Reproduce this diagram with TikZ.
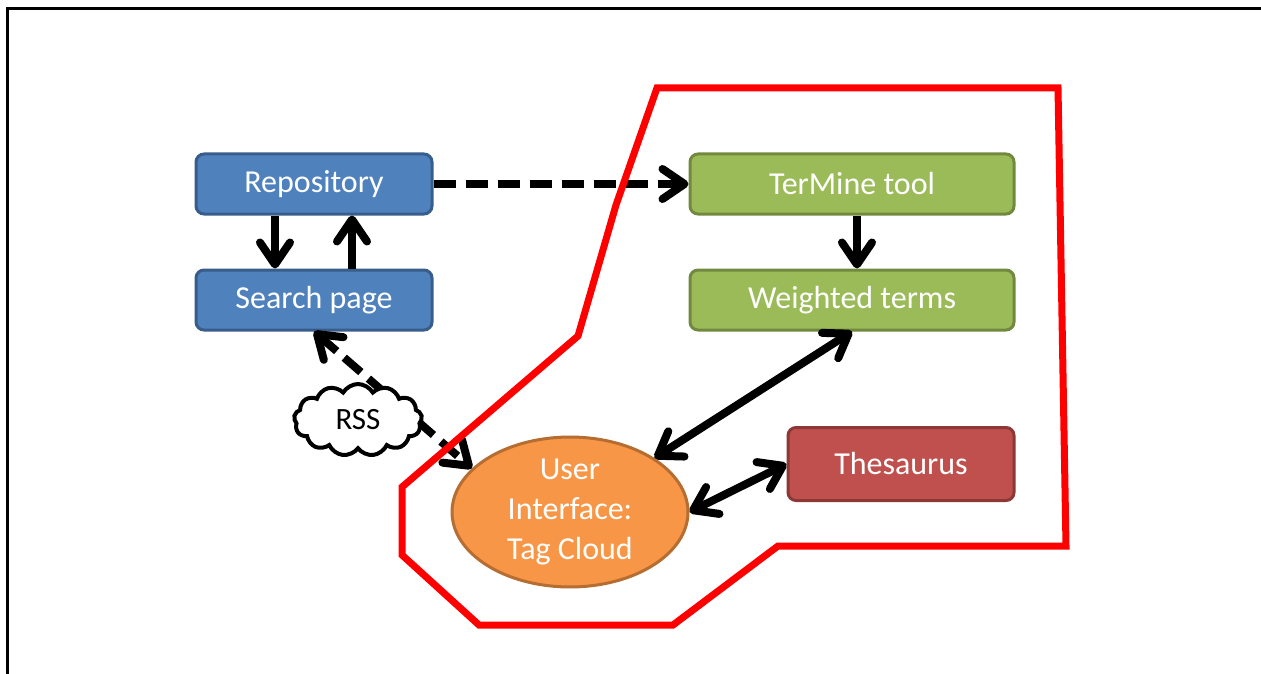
\documentclass[tikz,border=0pt]{standalone}
\usepackage{fontspec}
\setmainfont{Carlito}
\usepackage{xcolor}
\usepackage{tikz}
\usetikzlibrary{arrows.meta}
\usetikzlibrary{shapes.geometric}
\usetikzlibrary{shapes.symbols}
\definecolor{repo_blue}{HTML}{4F81BD}
\definecolor{repo_line}{HTML}{385D8A}
\definecolor{tool_green}{HTML}{9BBB59}
\definecolor{tool_line}{HTML}{71893F}
\definecolor{thes_red}{HTML}{C0504D}
\definecolor{thes_line}{HTML}{8C3836}
\definecolor{ui_orange}{HTML}{F79646}
\definecolor{ui_line}{HTML}{B66D31}
\tikzset{
    tbox/.style = {align=center, inner sep=0pt, text centered, text=white, rounded corners=8pt, line width=3pt, font=\fontsize{32}{38}\selectfont},
    blue_box/.style = {tbox, draw=repo_line, fill=repo_blue, minimum width=236pt, minimum height=60pt},
    green_box/.style = {tbox, draw=tool_line, fill=tool_green, minimum width=324pt, minimum height=60pt},
    red_box/.style = {tbox, draw=thes_line, fill=thes_red, minimum width=226pt, minimum height=73pt},
    ui_node/.style = {tbox, ellipse, draw=ui_line, fill=ui_orange, minimum width=236pt, minimum height=148pt, font=\fontsize{32}{40}\selectfont},
    feed/.style = {cloud, cloud puffs=13, cloud puff arc=120, aspect=1.8, draw=black, fill=white, line width=4pt, inner sep=0pt, minimum width=128pt, minimum height=72pt, font=\fontsize{31}{36}\selectfont},
    link/.style = {line width=8pt},
    dlink/.style = {link, dash pattern=on 22pt off 10pt}
}

\begin{document}
\begin{tikzpicture}
    [x=1pt, y=-1pt,
    >={Straight Barb[length=22pt, width=30pt, line cap=round, line join=round]}]

    \useasboundingbox (0,0) rectangle (1261,674);
    \draw [line width=3pt] (7,674) -- (7,9) -- (1261,9);

    \node [blue_box] (repo) at (314,184) {Repository};
    \node [blue_box] (search) at (314,300) {Search page};
    \node [green_box] (termine) at (852,184) {TerMine tool};
    \node [green_box] (weighted) at (852,300) {Weighted terms};
    \node [red_box] (thesaurus) at (901,464) {Thesaurus};
    \node [ui_node] (ui) at (570,512) {User\\Interface:\\Tag Cloud};

    \draw [dlink, ->] (repo.east) -- (termine.west);
    \draw [link, ->] ([xshift=-39pt]repo.south) -- ([xshift=-39pt]search.north);
    \draw [link, ->] ([xshift=38pt]search.north) -- ([xshift=38pt]repo.south);
    \draw [link, ->] ([xshift=5pt]termine.south) -- ([xshift=5pt]weighted.north);
    \draw [link, <->] (ui) -- (weighted.south);
    \draw [link, <->] (ui.east) -- (thesaurus.west);
    \draw [dlink, <->] (search.south) -- (ui.156);

    \node [feed] (rss) at (358,420) {RSS};

    \draw [red, line width=7pt, line join=miter]
        (657,88) -- (1058,88) -- (1066,546) -- (778,546) -- (673,625) -- (479,625)
        -- (402,555) -- (402,487) -- (578,336) -- (616,205) -- cycle;
\end{tikzpicture}
\end{document}
